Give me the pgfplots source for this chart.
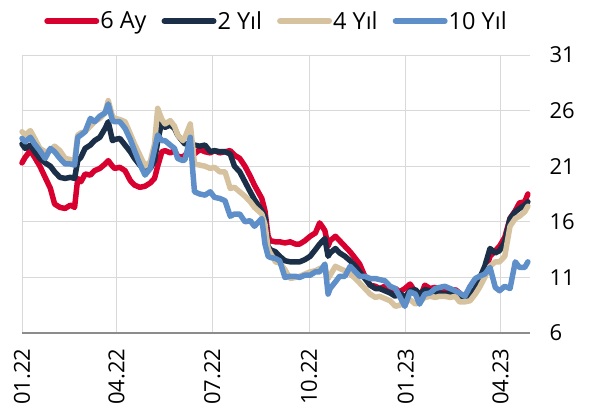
\documentclass[border=0pt]{standalone}
\usepackage{fontspec}
\setmainfont{Open Sans}
\usepackage{pgfplots}
\pgfplotsset{compat=1.18}
\definecolor{cred}{HTML}{D7002F}
\definecolor{cnavy}{HTML}{1B3048}
\definecolor{ctan}{HTML}{D6C29E}
\definecolor{cblue}{HTML}{5F8FC9}
\begin{document}
\begin{tikzpicture}
\useasboundingbox (-22pt,-83pt) rectangle (568pt,333pt);
\begin{axis}[
  scale only axis, width=508pt, height=278pt,
  xmin=0, xmax=483, ymin=6, ymax=31,
  ytick={6,11,16,21,26,31},
  xtick={0,90,181,273,365,455},
  xticklabels={01.22,04.22,07.22,10.22,01.23,04.23},
  axis x line*=bottom, axis y line*=right,
  y axis line style={draw=none},
  x axis line style={draw=black!45, line width=1.2pt, -},
  major tick length=0pt,
  grid=major,
  major grid style={draw=black!15, line width=1pt},
  ticklabel style={font=\fontsize{22}{26}\selectfont},
  /pgf/number format/assume math mode=true,
  yticklabel style={anchor=west},
  yticklabel shift=16pt,
  xticklabel style={rotate=90, anchor=east},
  xticklabel shift=12pt,
  clip=false,
  no markers,
  every axis plot/.append style={line width=5.5pt, line join=round, line cap=round},
  legend columns=-1,
  legend style={at={(0.5,1.122)}, anchor=center, draw=none, fill=none,
    font=\fontsize{23.5}{27}\selectfont,
    /tikz/every even column/.append style={column sep=14pt},
    nodes={inner sep=1pt}},
  legend image code/.code={\draw[#1, line width=6pt, line cap=round] (3pt,0pt) -- (52pt,0pt);},
]
\addplot[cred] coordinates {
(0,21.3)(3,21.8)(8,22.4)(12,21.8)(17,21.0)(22,20.0)(27,19.0)(31,17.6)(36,17.3)(41,17.2)
(46,17.5)(50,17.3)(53,19.9)(56,19.6)(60,20.3)(65,20.2)(69,20.6)(74,20.8)(79,21.2)(82,21.5)
(86,21.0)(88,20.8)(93,20.9)(98,20.6)(103,19.7)(107,19.3)(112,19.1)(117,19.2)(122,19.5)(126,19.9)
(129,21.0)(133,22.3)(136,22.4)(141,22.2)(145,22.4)(148,21.9)(153,21.8)(155,22.0)(160,22.4)(164,22.1)
(169,22.5)(174,22.3)(179,22.2)(183,22.4)(188,22.2)(193,22.3)(198,22.4)(202,22.0)(207,21.7)(212,21.0)
(217,20.1)(221,19.3)(228,18.1)(231,17.0)(234,14.7)(236,14.3)(241,14.2)(245,14.2)(250,14.1)(255,14.2)
(260,14.0)(264,14.0)(269,14.3)(274,14.7)(279,15.0)(283,15.9)(286,15.5)(288,15.2)(291,13.8)(293,14.3)
(298,14.7)(302,14.3)(307,13.8)(312,13.3)(317,12.7)(321,12.2)(326,11.1)(331,10.3)(336,10.2)(340,10.0)
(345,10.2)(350,9.8)(355,10.0)(359,9.7)(364,10.0)(369,10.4)(374,9.7)(378,9.1)(383,10.3)(388,10.0)
(393,10.1)(397,9.9)(402,10.0)(407,9.7)(412,9.9)(416,9.6)(421,8.9)(426,9.3)(431,9.6)(435,10.2)
(440,11.5)(445,12.9)(450,13.4)(454,13.8)(459,14.6)(464,16.3)(469,17.0)(473,17.7)(478,17.8)(481,18.5)
};
\addlegendentry{6 Ay}
\addplot[cnavy] coordinates {
(0,23.0)(3,22.6)(8,22.9)(12,22.3)(17,21.7)(22,21.3)(27,21.0)(31,20.5)(36,20.0)(41,19.9)
(46,20.0)(50,19.9)(53,21.5)(56,21.8)(60,22.6)(65,22.9)(69,23.3)(74,23.6)(79,24.4)(82,25.0)
(86,23.3)(88,23.4)(93,23.5)(98,22.9)(103,22.3)(107,21.7)(112,21.1)(117,20.6)(122,20.8)(126,21.5)
(129,23.2)(133,25.1)(136,24.5)(141,24.7)(145,24.4)(148,23.8)(153,23.2)(155,23.0)(160,23.0)(164,22.9)
(169,22.8)(174,22.9)(179,22.3)(183,22.4)(188,22.3)(193,22.3)(198,22.1)(202,21.0)(207,20.5)(212,19.6)
(217,18.7)(221,18.0)(228,17.0)(231,16.5)(234,13.8)(236,13.5)(241,13.3)(245,12.9)(250,12.5)(255,12.4)
(260,12.4)(264,12.4)(269,12.6)(274,12.9)(279,13.5)(283,14.0)(288,14.5)(291,12.9)(293,13.2)(298,13.6)
(302,13.2)(307,12.9)(312,12.5)(317,12.0)(321,11.5)(326,10.9)(331,10.3)(336,10.0)(340,10.0)(345,9.8)
(350,9.6)(355,9.3)(359,9.6)(364,9.2)(369,9.8)(374,9.9)(378,9.5)(383,9.9)(388,9.8)(393,9.7)
(397,9.6)(402,9.5)(407,9.6)(412,9.5)(416,9.2)(421,9.2)(426,9.4)(431,10.0)(435,10.9)(440,12.0)
(445,13.6)(450,13.2)(454,13.4)(459,14.2)(464,16.3)(469,16.9)(473,17.2)(478,17.5)(481,17.8)
};
\addlegendentry{2 Yıl}
\addplot[ctan] coordinates {
(0,24.1)(3,23.8)(8,24.2)(12,23.5)(17,22.6)(22,22.3)(27,22.4)(31,22.8)(36,22.4)(41,21.7)
(46,21.6)(50,21.5)(53,23.8)(56,24.0)(60,24.1)(65,24.6)(69,25.0)(74,25.3)(79,25.8)(82,26.9)
(86,25.5)(88,25.3)(93,25.2)(98,25.0)(103,23.9)(107,23.0)(112,22.0)(117,21.0)(122,21.4)(126,23.0)
(129,26.2)(133,25.2)(136,24.8)(141,25.1)(145,24.6)(148,23.8)(153,23.3)(155,23.6)(160,24.8)(162,23.0)
(164,21.2)(169,21.1)(174,21.0)(179,20.8)(183,20.9)(188,20.5)(193,20.5)(198,19.0)(202,19.1)(207,18.7)
(212,18.3)(217,17.8)(221,17.3)(228,16.7)(231,15.8)(234,13.6)(236,13.2)(241,12.4)(245,12.3)(250,11.7)
(255,10.9)(260,11.0)(264,11.1)(269,11.3)(274,11.5)(279,11.6)(283,11.8)(288,11.9)(291,10.9)(293,11.2)
(298,12.0)(302,11.8)(307,11.6)(312,11.3)(317,10.9)(321,10.5)(326,10.0)(331,9.5)(336,9.2)(340,9.3)
(345,9.1)(350,8.9)(355,8.4)(359,8.5)(364,8.8)(369,9.0)(374,8.6)(378,8.8)(383,9.2)(388,9.3)
(393,9.2)(397,9.3)(402,9.3)(407,9.2)(412,9.3)(416,8.8)(421,8.8)(426,8.9)(431,9.5)(435,10.1)
(440,11.0)(445,12.0)(450,12.4)(454,12.4)(459,12.9)(464,15.6)(469,16.3)(473,16.5)(478,16.9)(481,17.4)
};
\addlegendentry{4 Yıl}
\addplot[cblue] coordinates {
(0,23.5)(3,23.2)(8,23.6)(12,23.0)(17,22.4)(22,21.7)(27,22.6)(31,22.3)(36,21.7)(41,21.2)
(46,21.2)(50,21.1)(53,23.6)(56,23.8)(60,24.1)(65,25.3)(69,25.0)(74,25.5)(79,25.8)(82,26.6)
(86,25.1)(88,25.0)(93,25.0)(98,24.4)(103,23.4)(107,22.4)(112,21.2)(117,20.2)(122,20.8)(126,22.5)
(129,23.8)(133,23.3)(136,23.3)(141,22.9)(145,22.6)(148,21.7)(153,21.5)(155,21.6)(160,23.6)(162,21.0)
(164,18.7)(169,18.5)(174,18.4)(179,18.7)(183,18.2)(188,18.1)(193,17.9)(198,16.5)(202,16.7)(207,16.7)
(212,16.0)(217,16.1)(221,15.6)(228,16.3)(231,14.0)(234,12.9)(236,12.8)(241,12.7)(245,12.5)(250,11.0)
(255,11.1)(260,11.1)(264,11.0)(269,11.2)(274,11.2)(279,11.5)(283,11.5)(288,12.2)(291,9.5)(293,10.0)
(298,10.6)(302,11.1)(307,11.1)(312,12.0)(317,11.5)(321,11.1)(326,11.1)(331,10.9)(336,10.9)(340,10.8)
(345,10.7)(350,10.2)(355,10.0)(359,9.3)(364,8.4)(369,9.7)(374,9.5)(378,8.6)(383,9.5)(388,9.6)
(393,10.0)(397,10.1)(402,10.2)(407,10.0)(412,9.8)(416,9.6)(421,9.3)(426,10.2)(431,10.9)(435,11.1)
(440,11.3)(445,11.9)(450,10.1)(454,9.8)(459,10.2)(464,10.0)(469,12.4)(473,11.9)(478,11.9)(481,12.4)
};
\addlegendentry{10 Yıl}
\end{axis}
\end{tikzpicture}
\end{document}
